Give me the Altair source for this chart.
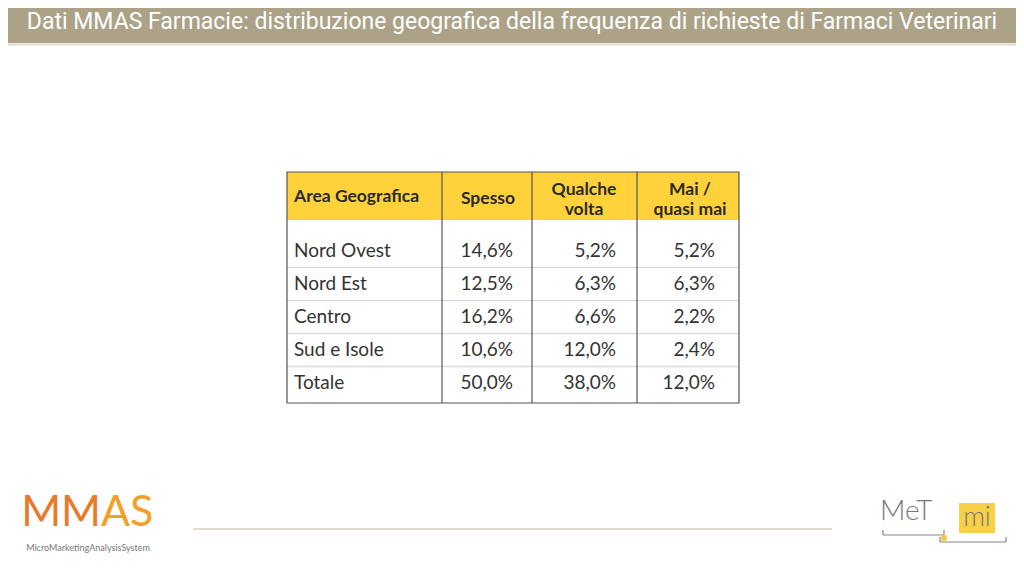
import altair as alt
import pandas as pd

# ---------------- data ----------------
TITLE = "Dati MMAS Farmacie: distribuzione geografica della frequenza di richieste di Farmaci Veterinari"
HEADERS = ["Area Geografica", "Spesso", "Qualche\nvolta", "Mai /\nquasi mai"]
REGIONS = ["Nord Ovest", "Nord Est", "Centro", "Sud e Isole", "Totale"]
SPESSO = [14.6, 12.5, 16.2, 10.6, 50.0]
QUALCHE_VOLTA = [5.2, 6.3, 6.6, 12.0, 38.0]
MAI_QUASI_MAI = [5.2, 6.3, 2.2, 2.4, 12.0]

# ---------------- layout (page px, converted to chart px) ----------------
W, H = 1008, 560
OFF = 8


def P(v):
    return v - OFF


TABLE_L, TABLE_R, TABLE_T, TABLE_B, HEAD_B = 287, 739, 172, 403, 220
COL_LINES = [442, 532, 637]
NAME_X = 294
NUM_RIGHT = [513, 616, 715]
HEAD_CENTER = [488, 584, 690]
ROW_FIRST, ROW_LAST = 251, 383

BODY_FONT = "Lato"
TITLE_FONT = "Roboto"
TXT = "#333333"

xs = alt.Scale(domain=[0, W], range=[0, W], nice=False, zero=False)
ys = alt.Scale(domain=[0, len(REGIONS) - 1], range=[P(ROW_FIRST), P(ROW_LAST)], nice=False, zero=False)
X = lambda f: alt.X(f, scale=xs, axis=None)
Y = lambda f: alt.Y(f, scale=ys, axis=None)

names_df = pd.DataFrame({"r": list(range(len(REGIONS))), "label": REGIONS, "xpos": P(NAME_X)})
num_rows = []
for j, series in enumerate([SPESSO, QUALCHE_VOLTA, MAI_QUASI_MAI]):
    for i, v in enumerate(series):
        num_rows.append({"r": i, "v": v, "xpos": P(NUM_RIGHT[j])})
nums_df = pd.DataFrame(num_rows)
head_c_df = pd.DataFrame({"label": HEADERS[1:], "xpos": [P(c) for c in HEAD_CENTER]})
sep_df = pd.DataFrame({"r": [i + 0.5 for i in range(len(REGIONS) - 1)]})
title_df = pd.DataFrame({"t": [TITLE]})
one = pd.DataFrame({"a": [0]})

layers = []

# title bar
layers.append(alt.Chart(one).mark_rect(color="#ACA287").encode(
    x=alt.value(0), x2=alt.value(W), y=alt.value(0), y2=alt.value(P(43))))
layers.append(alt.Chart(one).mark_rule(color="#E2DBCB", strokeWidth=2).encode(
    x=alt.value(0), x2=alt.value(W), y=alt.value(P(44.5))))
layers.append(alt.Chart(title_df).mark_text(font=TITLE_FONT, fontSize=23, color="white",
                                            align="center", baseline="middle").encode(
    text="t:N", x=alt.value(P(512)), y=alt.value(P(22))))

# header background
layers.append(alt.Chart(one).mark_rect(color="#FFD23C").encode(
    x=alt.value(P(TABLE_L)), x2=alt.value(P(TABLE_R)), y=alt.value(P(TABLE_T)), y2=alt.value(P(HEAD_B))))

# header texts
layers.append(alt.Chart(pd.DataFrame({"label": HEADERS[:1], "xpos": [P(NAME_X)]})).mark_text(
    font=BODY_FONT, fontWeight="bold", fontSize=17.5, color="#2a2a2a", align="left", baseline="middle").encode(
    text="label:N", x=X("xpos:Q"), y=alt.value(P(197))))
layers.append(alt.Chart(head_c_df.iloc[:1]).mark_text(
    font=BODY_FONT, fontWeight="bold", fontSize=17.5, color="#2a2a2a", align="center", baseline="middle").encode(
    text="label:N", x=X("xpos:Q"), y=alt.value(P(199))))
layers.append(alt.Chart(head_c_df.iloc[1:]).mark_text(
    font=BODY_FONT, fontWeight="bold", fontSize=17.5, color="#2a2a2a", align="center", baseline="middle",
    lineBreak="\n", lineHeight=20).encode(
    text="label:N", x=X("xpos:Q"), y=alt.value(P(190))))

# row separators
layers.append(alt.Chart(sep_df).mark_rule(color="#DADADA", strokeWidth=1.5).encode(
    y=Y("r:Q"), x=alt.value(P(TABLE_L)), x2=alt.value(P(TABLE_R))))

# body texts
layers.append(alt.Chart(names_df).mark_text(
    font=BODY_FONT, fontSize=19, color=TXT, align="left", baseline="middle").encode(
    text="label:N", x=X("xpos:Q"), y=Y("r:Q")))
layers.append(alt.Chart(nums_df).transform_calculate(
    lab="replace(format(datum.v, '.1f'), '.', ',') + '%'").mark_text(
    font=BODY_FONT, fontSize=19, color=TXT, align="right", baseline="middle").encode(
    text="lab:N", x=X("xpos:Q"), y=Y("r:Q")))

# vertical lines and border
for cx in COL_LINES:
    layers.append(alt.Chart(one).mark_rule(color="#555555", strokeWidth=1.2).encode(
        x=alt.value(P(cx)), y=alt.value(P(TABLE_T)), y2=alt.value(P(TABLE_B))))
layers.append(alt.Chart(one).mark_rect(fill=None, fillOpacity=0, stroke="#555555", strokeWidth=1.2).encode(
    x=alt.value(P(TABLE_L)), x2=alt.value(P(TABLE_R)), y=alt.value(P(TABLE_T)), y2=alt.value(P(TABLE_B))))

# bottom line
layers.append(alt.Chart(one).mark_rule(color="#D8CFBD", strokeWidth=1.5).encode(
    x=alt.value(P(193)), x2=alt.value(P(832)), y=alt.value(P(529))))

# MMAS logo
layers.append(alt.Chart(one).mark_text(font=BODY_FONT, fontSize=43, color="#E97A2B",
                                       align="right", baseline="middle").encode(
    text=alt.value("MM"), x=alt.value(P(101)), y=alt.value(P(513))))
layers.append(alt.Chart(one).mark_text(font=BODY_FONT, fontSize=43, color="#F39F27",
                                       align="left", baseline="middle").encode(
    text=alt.value("AS"), x=alt.value(P(101)), y=alt.value(P(513))))
layers.append(alt.Chart(one).mark_text(font=BODY_FONT, fontSize=9, color="#777777",
                                       align="center", baseline="middle").encode(
    text=alt.value("MicroMarketingAnalysisSystem"), x=alt.value(P(88)), y=alt.value(P(548))))

# MeT mi logo
layers.append(alt.Chart(one).mark_rect(color="#F8D048").encode(
    x=alt.value(P(959)), x2=alt.value(P(995)), y=alt.value(P(503)), y2=alt.value(P(533))))
layers.append(alt.Chart(one).mark_text(font=BODY_FONT, fontWeight=300, fontSize=28, color="#777777",
                                       align="left", baseline="middle").encode(
    text=alt.value("MeT"), x=alt.value(P(880)), y=alt.value(P(512))))
layers.append(alt.Chart(one).mark_text(font=BODY_FONT, fontWeight=300, fontSize=27, color="#777777",
                                       align="center", baseline="middle").encode(
    text=alt.value("mi"), x=alt.value(P(977)), y=alt.value(P(518))))
for (x1, x2, yy) in [(883, 944, 535), (940, 1006, 542)]:
    layers.append(alt.Chart(one).mark_rule(color="#888888", strokeWidth=1.2).encode(
        x=alt.value(P(x1)), x2=alt.value(P(x2)), y=alt.value(P(yy))))
    for xx in (x1, x2):
        layers.append(alt.Chart(one).mark_rule(color="#888888", strokeWidth=1.2).encode(
            x=alt.value(P(xx)), y=alt.value(P(yy - 5)), y2=alt.value(P(yy))))
layers.append(alt.Chart(one).mark_square(color="#F8C840", size=30, opacity=1).encode(
    x=alt.value(P(944)), y=alt.value(P(538))))

chart = alt.layer(*layers).properties(
    width=W, height=H, padding=0, autosize="none", background="white"
).configure_view(strokeWidth=0)

chart.save("out.html", embed_options={"renderer": "svg", "actions": False})
